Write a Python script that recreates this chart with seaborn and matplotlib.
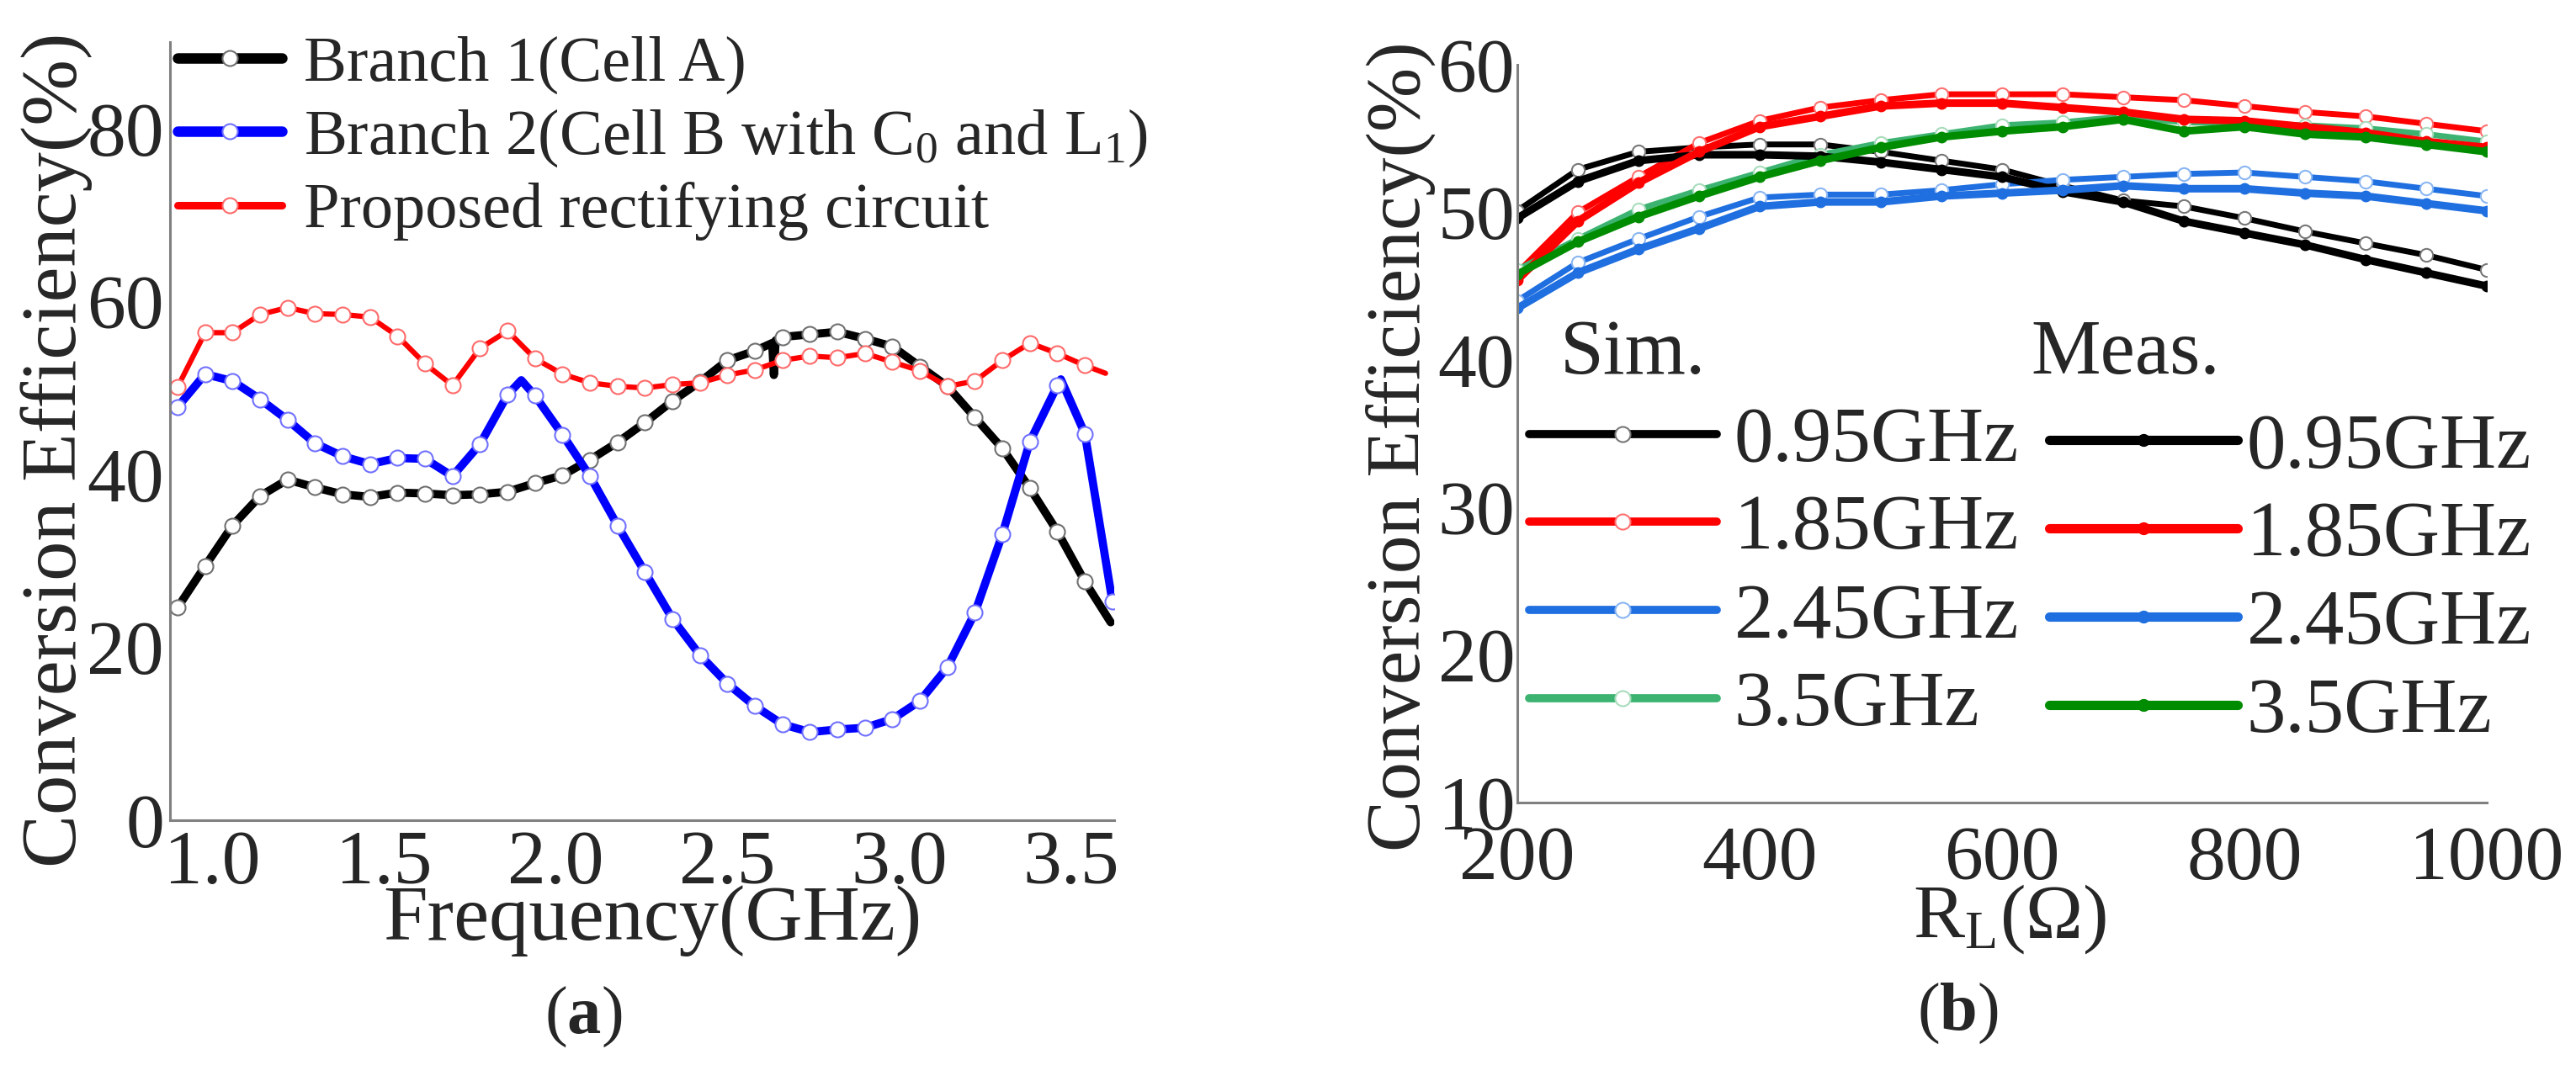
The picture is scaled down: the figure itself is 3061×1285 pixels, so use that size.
import matplotlib
matplotlib.use("Agg")
import matplotlib.pyplot as plt
from matplotlib.lines import Line2D
from matplotlib.ticker import MultipleLocator
import seaborn as sns

# ---- panel (a): conversion efficiency vs frequency ----
freq_b1 = [0.90, 0.98, 1.06, 1.14, 1.22, 1.30, 1.38, 1.46, 1.54, 1.62, 1.70, 1.78,
           1.86, 1.94, 2.02, 2.10, 2.18, 2.26, 2.34, 2.42, 2.50, 2.58, 2.63, 2.635,
           2.64, 2.66, 2.74, 2.82, 2.90, 2.98, 3.06, 3.14, 3.22, 3.30, 3.38, 3.46,
           3.54, 3.615]
eff_b1 = [24.6, 29.4, 34.1, 37.5, 39.4, 38.5, 37.7, 37.4, 37.9, 37.8, 37.6, 37.7,
          38.0, 39.0, 39.9, 41.7, 43.7, 46.0, 48.5, 50.7, 53.2, 54.3, 55.2, 51.5,
          55.5, 55.9, 56.2, 56.5, 55.7, 54.8, 52.5, 50.2, 46.6, 43.0, 38.4, 33.4,
          27.6, 22.9]
mark_b1 = [i for i in range(len(freq_b1)) if i not in (22, 23, 24, 37)]

freq_b2 = [0.90, 0.98, 1.06, 1.14, 1.22, 1.30, 1.38, 1.46, 1.54, 1.62, 1.70, 1.78,
           1.86, 1.90, 1.94, 2.02, 2.10, 2.18, 2.26, 2.34, 2.42, 2.50, 2.58, 2.66,
           2.74, 2.82, 2.90, 2.98, 3.06, 3.14, 3.22, 3.30, 3.38, 3.46, 3.47, 3.54,
           3.62]
eff_b2 = [47.8, 51.6, 50.8, 48.7, 46.3, 43.6, 42.1, 41.2, 41.9, 41.8, 39.8, 43.5,
          49.2, 50.9, 49.1, 44.6, 39.8, 34.1, 28.7, 23.3, 19.1, 15.8, 13.2, 11.1,
          10.2, 10.5, 10.7, 11.7, 13.8, 17.7, 24.0, 33.1, 43.8, 50.3, 51.0, 44.7,
          25.3]
mark_b2 = [i for i in range(len(freq_b2)) if i not in (13, 34)]

freq_pr = [0.90, 0.98, 1.06, 1.14, 1.22, 1.30, 1.38, 1.46, 1.54, 1.62, 1.70, 1.78,
           1.86, 1.94, 2.02, 2.10, 2.18, 2.26, 2.34, 2.42, 2.50, 2.58, 2.66, 2.74,
           2.82, 2.90, 2.98, 3.06, 3.14, 3.22, 3.30, 3.38, 3.46, 3.54, 3.60]
eff_pr = [50.1, 56.4, 56.4, 58.5, 59.3, 58.6, 58.5, 58.2, 56.0, 52.8, 50.3, 54.6,
          56.6, 53.4, 51.6, 50.6, 50.2, 50.0, 50.4, 50.6, 51.5, 52.1, 53.2, 53.7,
          53.5, 54.0, 53.0, 52.0, 50.2, 50.8, 53.2, 55.2, 54.0, 52.6, 51.7]
mark_pr = list(range(len(freq_pr) - 1))

labels_a = ["Branch 1(Cell A)",
            r"Branch 2(Cell B with C$_\mathrm{0}$ and L$_\mathrm{1}$)",
            "Proposed rectifying circuit"]

# ---- panel (b): conversion efficiency vs load ----
rl = [200, 250, 300, 350, 400, 450, 500, 550, 600, 650, 700, 750, 800, 850, 900, 950, 1000]
sim_095 = [50.1, 52.9, 54.1, 54.4, 54.6, 54.6, 54.1, 53.5, 52.9, 51.8, 50.8, 50.4, 49.6, 48.7, 47.9, 47.1, 46.1]
meas_095 = [49.6, 52.1, 53.5, 53.9, 53.9, 53.8, 53.4, 52.9, 52.4, 51.4, 50.7, 49.4, 48.6, 47.8, 46.8, 45.9, 45.0]
sim_185 = [45.9, 50.0, 52.4, 54.7, 56.2, 57.1, 57.6, 58.0, 58.0, 58.0, 57.8, 57.6, 57.2, 56.8, 56.5, 56.0, 55.5]
meas_185 = [45.4, 49.4, 52.0, 54.1, 55.8, 56.5, 57.2, 57.4, 57.4, 57.1, 56.8, 56.3, 56.2, 55.8, 55.4, 54.8, 54.4]
sim_245 = [44.0, 46.6, 48.2, 49.7, 51.0, 51.2, 51.2, 51.5, 51.9, 52.2, 52.4, 52.6, 52.7, 52.4, 52.1, 51.6, 51.1]
meas_245 = [43.5, 45.9, 47.5, 48.9, 50.4, 50.7, 50.7, 51.1, 51.3, 51.5, 51.8, 51.6, 51.6, 51.3, 51.1, 50.6, 50.1]
sim_35 = [46.1, 48.2, 50.2, 51.5, 52.7, 53.9, 54.7, 55.3, 55.9, 56.1, 56.5, 56.1, 56.0, 55.9, 55.7, 55.3, 54.8]
meas_35 = [45.8, 48.0, 49.7, 51.1, 52.4, 53.5, 54.4, 55.1, 55.5, 55.8, 56.3, 55.5, 55.8, 55.3, 55.1, 54.6, 54.1]
band_labels = ["0.95GHz", "1.85GHz", "2.45GHz", "3.5GHz"]

sns.set_theme(style="white")
plt.rcParams['font.family'] = ['Liberation Serif', 'DejaVu Serif']
plt.rcParams['mathtext.fontset'] = 'custom'
plt.rcParams['mathtext.rm'] = 'Liberation Serif'
plt.rcParams['mathtext.it'] = 'Liberation Serif:italic'
plt.rcParams['mathtext.bf'] = 'Liberation Serif:bold'
plt.rcParams['axes.unicode_minus'] = False

fig = plt.figure(figsize=(30.61, 12.85), dpi=100)
ax1 = fig.add_axes([0.0660, 0.2412, 0.3665, 0.7198])
ax2 = fig.add_axes([0.5890, 0.2576, 0.3763, 0.6825])

for ax in (ax1, ax2):
    for side in ("top", "right"):
        ax.spines[side].set_visible(False)
    for side in ("left", "bottom"):
        ax.spines[side].set_color("#808080")
        ax.spines[side].set_linewidth(2.2)
    ax.tick_params(which="both", direction="out", color="#333333", width=2)

# panel (a) curves
style_a = [
    (freq_b1, eff_b1, mark_b1, "black", "#707070", 7),
    (freq_b2, eff_b2, mark_b2, "#0000ff", "#7070ff", 7),
    (freq_pr, eff_pr, mark_pr, "#ff0000", "#ff6a6a", 4.5),
]
handles_a = []
for (xs, ys, mk, col, edge, lw), lab in zip(style_a, labels_a):
    sns.lineplot(x=xs, y=ys, ax=ax1, color=col, lw=lw, marker="o", markevery=mk,
                 ms=13, mfc="white", mec=edge, mew=1.5, estimator=None)
    handles_a.append(Line2D([], [], color=col, lw=lw + 2, marker="o", ms=13,
                            mfc="white", mec=edge, mew=1.5, label=lab))

ax1.set_xlim(0.878, 3.625)
ax1.set_ylim(0, 90)
ax1.xaxis.set_minor_locator(MultipleLocator(0.25))
ax1.yaxis.set_minor_locator(MultipleLocator(10))
ax1.set_xticks([1.0, 1.5, 2.0, 2.5, 3.0, 3.5])
ax1.set_xticklabels(["1.0", "1.5", "2.0", "2.5", "3.0", "3.5"])
ax1.set_yticks([0, 20, 40, 60, 80])
ax1.tick_params(axis="x", which="major", length=11, labelsize=66, pad=-3)
ax1.tick_params(axis="x", which="minor", length=5)
ax1.tick_params(axis="y", which="both", length=5, labelsize=66, pad=0)
ax1.set_xlabel("Frequency(GHz)", fontsize=68, va="center")
ax1.xaxis.set_label_coords(0.511, -0.129)
ax1.set_ylabel("Conversion Efficiency(%)", fontsize=68, va="center")
ax1.yaxis.set_label_coords(-0.120, 0.476)

ax1.legend(handles=handles_a, loc="upper left", bbox_to_anchor=(0.008, 1.008),
           frameon=False, fontsize=55, handlelength=1.62, handletextpad=0.35,
           labelspacing=0.2, borderpad=0, borderaxespad=0, numpoints=1)

# panel (b) curves
colors_sim = ["black", "#ff0000", "#1f6fe0", "#3cb371"]
colors_meas = ["black", "#ff0000", "#1f6fe0", "#008c00"]
edges_sim = ["#777777", "#ff7070", "#8ab6f2", "#a8dcbc"]
sims = [sim_095, sim_185, sim_245, sim_35]
meas = [meas_095, meas_185, meas_245, meas_35]

h_sim, h_meas = [], []
for ys, col, edge, lab in zip(sims, colors_sim, edges_sim, band_labels):
    sns.lineplot(x=rl, y=ys, ax=ax2, color=col, lw=5, marker="o", ms=11,
                 mfc="white", mec=edge, mew=1.5, estimator=None)
    h_sim.append(Line2D([], [], color=col, lw=7, marker="o", ms=13,
                        mfc="white", mec=edge, mew=1.5, label=lab))
for ys, col, lab in zip(meas, colors_meas, band_labels):
    sns.lineplot(x=rl, y=ys, ax=ax2, color=col, lw=6.5, marker="o", ms=9,
                 mfc=col, mec=col, mew=1, estimator=None)
    h_meas.append(Line2D([], [], color=col, lw=8, marker="o", ms=10,
                         mfc=col, mec=col, mew=1, label=lab))

ax2.set_xlim(200, 1000)
ax2.set_ylim(10, 60)
ax2.xaxis.set_major_locator(MultipleLocator(200))
ax2.xaxis.set_minor_locator(MultipleLocator(100))
ax2.yaxis.set_major_locator(MultipleLocator(10))
ax2.yaxis.set_minor_locator(MultipleLocator(5))
ax2.tick_params(axis="both", which="major", length=12, labelsize=66)
ax2.tick_params(axis="both", which="minor", length=6)
ax2.tick_params(axis="x", which="major", pad=8)
ax2.tick_params(axis="y", which="major", pad=-10)
ax2.set_xlabel(r"R$_\mathrm{L}$(Ω)", fontsize=66, va="center")
ax2.xaxis.set_label_coords(0.508, -0.158)
ax2.set_ylabel("Conversion Efficiency(%)", fontsize=66, va="center")
ax2.yaxis.set_label_coords(-0.120, 0.483)

leg_sim = ax2.legend(handles=h_sim, loc="upper left", bbox_to_anchor=(0.012, 0.537),
                     frameon=False, fontsize=67, handlelength=2.4, handletextpad=0.22,
                     labelspacing=0.21, borderpad=0, borderaxespad=0, numpoints=1)
ax2.add_artist(leg_sim)
ax2.legend(handles=h_meas, loc="upper left", bbox_to_anchor=(0.549, 0.528),
           frameon=False, fontsize=67, handlelength=2.4, handletextpad=0.12,
           labelspacing=0.21, borderpad=0, borderaxespad=0, numpoints=1)
ax2.text(0.044, 0.607, "Sim.", transform=ax2.transAxes, fontsize=67,
         ha="left", va="center")
ax2.text(0.530, 0.607, "Meas.", transform=ax2.transAxes, fontsize=67,
         ha="left", va="center")

fig.text(0.2264, 0.0591, r"($\mathbf{a}$)", fontsize=58, ha="center", va="center")
fig.text(0.7599, 0.0623, r"($\mathbf{b}$)", fontsize=58, ha="center", va="center")

fig.savefig("out.png", dpi=100)
